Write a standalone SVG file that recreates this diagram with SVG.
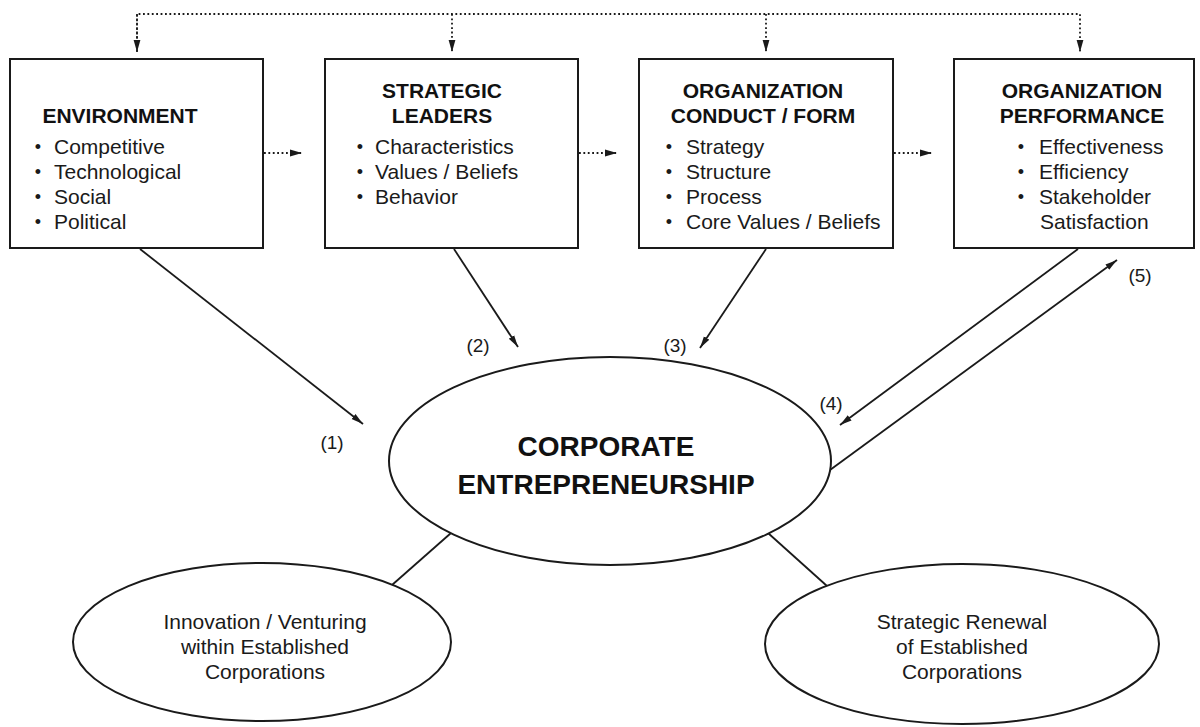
<svg xmlns="http://www.w3.org/2000/svg" width="1200" height="727" viewBox="0 0 1200 727">
<defs>
<style>
.box{fill:#fff;stroke:#1a1a1a;stroke-width:2}
.ell{fill:#fff;stroke:#1a1a1a;stroke-width:2}
.h{font-family:"Liberation Sans",Arial,sans-serif;font-weight:bold;font-size:21px;fill:#111;text-anchor:middle}
.t{font-family:"Liberation Sans",Arial,sans-serif;font-size:21px;fill:#1a1a1a}
.b{font-family:"Liberation Sans",Arial,sans-serif;font-size:18px;fill:#1a1a1a;text-anchor:middle}
.c{font-family:"Liberation Sans",Arial,sans-serif;font-size:21px;fill:#1a1a1a;text-anchor:middle}
.big{font-family:"Liberation Sans",Arial,sans-serif;font-weight:bold;font-size:28px;fill:#111;text-anchor:middle}
.lab{font-family:"Liberation Sans",Arial,sans-serif;font-size:19px;fill:#1a1a1a;text-anchor:middle}
.dot{fill:none;stroke:#1a1a1a;stroke-width:1.8;stroke-dasharray:1.8 2.6}
.sol{fill:none;stroke:#1a1a1a;stroke-width:1.8}
</style>
<marker id="ah" viewBox="0 0 12 8" refX="12" refY="4" markerWidth="12" markerHeight="8" markerUnits="userSpaceOnUse" orient="auto">
<path d="M0,0.8 L12,4 L0,7.2 Z" fill="#1a1a1a"/>
</marker>
<marker id="ahd" viewBox="0 0 12 8" refX="12" refY="4" markerWidth="12" markerHeight="8" markerUnits="userSpaceOnUse" orient="auto">
<path d="M0,0.6 L12,4 L0,7.4 Z" fill="#1a1a1a"/>
</marker>
</defs>
<rect width="1200" height="727" fill="#fff"/>

<g id="connectors">
<path class="dot" d="M137,52 V14 H1080 V52" marker-end="url(#ahd)"/>
<line class="dot" x1="137" y1="14" x2="137" y2="52" marker-end="url(#ahd)"/>
<line class="dot" x1="452" y1="14" x2="452" y2="52" marker-end="url(#ahd)"/>
<line class="dot" x1="766" y1="14" x2="766" y2="52" marker-end="url(#ahd)"/>
<line class="dot" x1="264" y1="153" x2="302" y2="153" marker-end="url(#ahd)"/>
<line class="dot" x1="579" y1="153" x2="617" y2="153" marker-end="url(#ahd)"/>
<line class="dot" x1="894" y1="153" x2="932" y2="153" marker-end="url(#ahd)"/>
<line class="sol" x1="140" y1="249" x2="363" y2="424" marker-end="url(#ah)"/>
<line class="sol" x1="454" y1="249" x2="518" y2="347" marker-end="url(#ah)"/>
<line class="sol" x1="766" y1="249" x2="700" y2="348" marker-end="url(#ah)"/>
<line class="sol" x1="1078" y1="249" x2="840" y2="425" marker-end="url(#ah)"/>
<line class="sol" x1="830" y1="470" x2="1117" y2="260" marker-end="url(#ah)"/>
<line class="sol" x1="451" y1="533" x2="392" y2="585"/>
<line class="sol" x1="768" y1="533" x2="827" y2="586"/>
<text class="lab" x="332" y="449">(1)</text>
<text class="lab" x="478" y="352">(2)</text>
<text class="lab" x="675" y="352">(3)</text>
<text class="lab" x="831" y="410">(4)</text>
<text class="lab" x="1140" y="282">(5)</text>
</g>

<g id="environment">
<rect class="box" x="10" y="59" width="253" height="189"/>
<text class="h" x="120" y="123">ENVIRONMENT</text>
<text class="b" x="38" y="153">•</text><text class="t" x="54" y="154">Competitive</text>
<text class="b" x="38" y="178">•</text><text class="t" x="54" y="179">Technological</text>
<text class="b" x="38" y="203">•</text><text class="t" x="54" y="204">Social</text>
<text class="b" x="38" y="228">•</text><text class="t" x="54" y="229">Political</text>
</g>

<g id="strategic-leaders">
<rect class="box" x="325" y="59" width="253" height="189"/>
<text class="h" x="442" y="98">STRATEGIC</text>
<text class="h" x="442" y="123">LEADERS</text>
<text class="b" x="360" y="153">•</text><text class="t" x="375" y="154">Characteristics</text>
<text class="b" x="360" y="178">•</text><text class="t" x="375" y="179">Values / Beliefs</text>
<text class="b" x="360" y="203">•</text><text class="t" x="375" y="204">Behavior</text>
</g>

<g id="organization-conduct">
<rect class="box" x="639" y="59" width="254" height="189"/>
<text class="h" x="763" y="98">ORGANIZATION</text>
<text class="h" x="763" y="123">CONDUCT / FORM</text>
<text class="b" x="669" y="153">•</text><text class="t" x="686" y="154">Strategy</text>
<text class="b" x="669" y="178">•</text><text class="t" x="686" y="179">Structure</text>
<text class="b" x="669" y="203">•</text><text class="t" x="686" y="204">Process</text>
<text class="b" x="669" y="228">•</text><text class="t" x="686" y="229">Core Values / Beliefs</text>
</g>

<g id="organization-performance">
<rect class="box" x="954" y="59" width="240" height="189"/>
<text class="h" x="1082" y="98">ORGANIZATION</text>
<text class="h" x="1082" y="123">PERFORMANCE</text>
<text class="b" x="1021" y="153">•</text><text class="t" x="1039" y="154">Effectiveness</text>
<text class="b" x="1021" y="178">•</text><text class="t" x="1039" y="179">Efficiency</text>
<text class="b" x="1021" y="203">•</text><text class="t" x="1039" y="204">Stakeholder</text>
<text class="t" x="1040" y="229">Satisfaction</text>
</g>

<g id="corporate-entrepreneurship">
<ellipse class="ell" cx="610" cy="461" rx="221" ry="104"/>
<text class="big" x="606" y="456">CORPORATE</text>
<text class="big" x="606" y="494">ENTREPRENEURSHIP</text>
</g>

<g id="innovation-venturing">
<ellipse class="ell" cx="262" cy="642" rx="189" ry="79"/>
<text class="c" x="265" y="629">Innovation / Venturing</text>
<text class="c" x="265" y="654">within Established</text>
<text class="c" x="265" y="679">Corporations</text>
</g>

<g id="strategic-renewal">
<ellipse class="ell" cx="962" cy="644" rx="197" ry="80"/>
<text class="c" x="962" y="629">Strategic Renewal</text>
<text class="c" x="962" y="654">of Established</text>
<text class="c" x="962" y="679">Corporations</text>
</g>
</svg>
